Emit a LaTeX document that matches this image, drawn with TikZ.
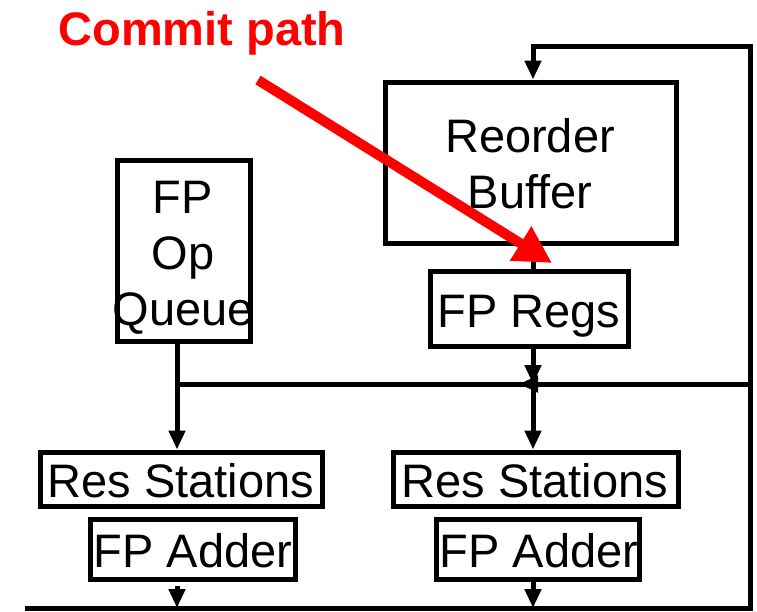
\documentclass[tikz,border=0pt]{standalone}
\usepackage{fontspec}
\setmainfont{Liberation Sans}
\usetikzlibrary{arrows.meta}
\begin{document}
\begin{tikzpicture}[x=1pt,y=-1pt,
  box/.style={draw=black, line width=5pt, inner sep=0pt, fill=none},
  lbl/.style={inner sep=0pt, align=center, font=\fontsize{47}{56}\selectfont, anchor=base},
  wire/.style={draw=black, line width=5pt},
  arr/.style={wire, -{Triangle[length=19pt,width=16pt]}},
  commit/.style={draw=red, line width=10pt, -{Triangle[length=37pt,width=38pt]}}
]
\useasboundingbox (0,0) rectangle (757,611);
% boxes
\node[box, minimum width=291pt, minimum height=161pt] (rob) at (530.5,162.5) {};
\node[box, minimum width=198pt, minimum height=75pt] (regs) at (529,308.5) {};
\node[box, minimum width=133pt, minimum height=181pt] (queue) at (183.5,250.5) {};
\node[box, minimum width=282pt, minimum height=54pt] (rsL) at (181,479) {};
\node[box, minimum width=285pt, minimum height=54pt] (rsR) at (535.5,479) {};
\node[box, minimum width=205pt, minimum height=60pt] (addL) at (192.5,549) {};
\node[box, minimum width=203pt, minimum height=60pt] (addR) at (537.5,549) {};
% texts (base anchor = last line's baseline)
\node[lbl] (robT) at (530,208) {Reorder\\Buffer};
\node[lbl] (regsT) at (529,327) {FP Regs};
\node[lbl] (queueT) at (183,325) {FP\\Op\\Queue};
\node[lbl] (rsLT) at (181,497) {Res Stations};
\node[lbl] (rsRT) at (535,497) {Res Stations};
\node[lbl] (addLT) at (193,567) {FP Adder};
\node[lbl] (addRT) at (539,567) {FP Adder};
\node[lbl, font=\fontsize{47}{56}\selectfont\bfseries, text=red] (commitT) at (202,45) {Commit path};
% coordinates
\coordinate (cR) at (533,0);
\coordinate (cL) at (177,0);
\coordinate (busY) at (0,384);
\coordinate (botY) at (0,608);
\coordinate (topY) at (0,46);
\coordinate (rx) at (750,0);
\coordinate (botL) at (27,608);
\coordinate (redS) at (258,80);
\coordinate (redE) at (552,263);
% feedback loop
\draw[wire, line cap=rect] (botL) -- (rx |- botY) -- (rx |- topY) -- (cR |- topY);
\draw[arr] (cR |- topY) -- (rob.north -| cR);
\draw[wire] (rob.south -| cR) -- (regs.north -| cR);
\draw[arr] (regs.south -| cR) -- (cR |- busY);
% bus
\draw[wire] (rx |- busY) -- (cL |- busY);
\draw[arr] (rx |- busY) -- ([xshift=-14pt]cR |- busY);
\draw[wire] (queue.south -| cL) -- (cL |- busY);
\draw[arr] (cL |- busY) -- (rsL.north -| cL);
\draw[arr] (cR |- busY) -- (rsR.north -| cR);
% outputs
\draw[arr] ([yshift=-4pt]addL.south -| cL) -- (cL |- botY);
\draw[arr] (addR.south -| cR) -- (cR |- botY);
% commit arrow
\draw[commit] (redS) -- (redE);
\end{tikzpicture}
\end{document}
